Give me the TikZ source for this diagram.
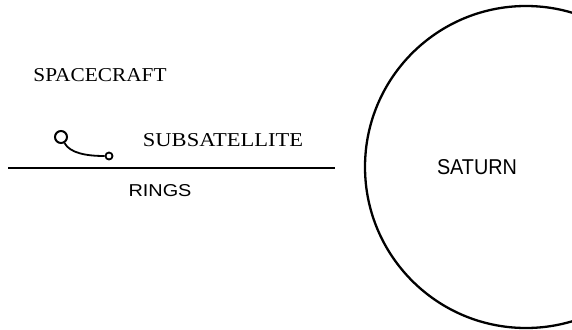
\documentclass[tikz,border=0pt]{standalone}
\usepackage{graphicx}
\usepackage{fontspec}
\setmainfont{Liberation Serif}
\newfontfamily\letterfont{Liberation Sans}
\tikzset{
  px/.style={x=1pt,y=-1pt},
  line/.style={line width=2.3pt},
  lbl/.style={inner sep=0pt,anchor=center},
  craft/.style={draw,circle,line width=2pt,inner sep=0pt},
}
\begin{document}
\begin{tikzpicture}[px]
\useasboundingbox (0,0) rectangle (572,329);
\clip (0,0) rectangle (572,329);
% Saturn
\draw[line] (526,167) circle[radius=161];
\node[lbl] (saturn) at (477,167) {\resizebox{80pt}{15pt}{\letterfont SATURN}};
% rings
\coordinate (r1) at (8,168);
\coordinate (r2) at (335,168);
\draw[line] (r1) -- (r2);
\node[lbl] (rings) at (160,191) {\resizebox{63pt}{12pt}{\letterfont RINGS}};
% labels
\node[lbl] (spacecraft) at (100,75) {\resizebox{133pt}{13pt}{SPACECRAFT}};
\node[lbl] (subsat) at (223,140) {\resizebox{160pt}{13pt}{SUBSATELLITE}};
% spacecraft and subsatellite
\node[craft,minimum size=12pt] (sc) at (61,137) {};
\node[craft,minimum size=7pt,line width=1.8pt] (sub) at (109,156) {};
\draw[line width=1.8pt] (sc.-60) .. controls (70,153) and (86,156) .. (sub.west);
\end{tikzpicture}
\end{document}
